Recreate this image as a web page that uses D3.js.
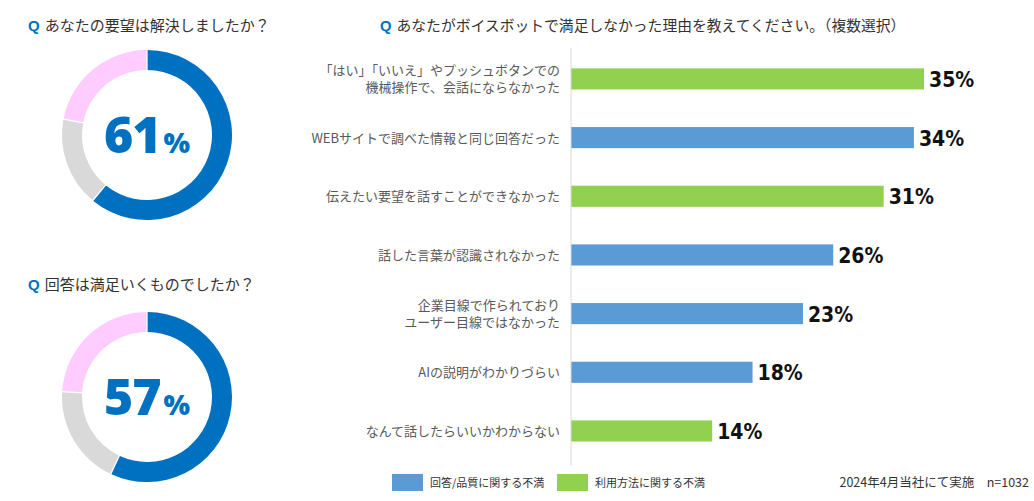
<!DOCTYPE html>
<html>
<head>
<meta charset="utf-8">
<script src="https://cdn.jsdelivr.net/npm/d3@7"></script>
<style>
  body { margin: 0; background: #fff; }
  text { font-family: "Noto Sans CJK JP", "Noto Sans", sans-serif; }
</style>
</head>
<body>
<div id="vis"></div>
<script>
// donut questions + values (resolved / neutral / not resolved)
var donutTitles = ["あなたの要望は解決しましたか？", "回答は満足いくものでしたか？"];
var donutTopValues = [61, 17, 22];
var donutBottomValues = [57, 19, 24];
var donutColors = ["#0070C0", "#D9D9D9", "#FFCCFF"];

// bar chart
var barTitle = "あなたがボイスボットで満足しなかった理由を教えてください。（複数選択）";
var reasonLabels = [
  ["「はい」「いいえ」やプッシュボタンでの", "機械操作で、会話にならなかった"],
  ["WEBサイトで調べた情報と同じ回答だった"],
  ["伝えたい要望を話すことができなかった"],
  ["話した言葉が認識されなかった"],
  ["企業目線で作られており", "ユーザー目線ではなかった"],
  ["AIの説明がわかりづらい"],
  ["なんて話したらいいかわからない"]
];
var reasonValues = [35, 34, 31, 26, 23, 18, 14];
var reasonGroups = ["usage", "quality", "usage", "quality", "quality", "quality", "usage"];
var groupNames = ["quality", "usage"];
var legendLabels = ["回答/品質に関する不満", "利用方法に関する不満"];
var footnote = "2024年4月当社にて実施　n=1032";

var width = 1034, height = 501;

var svg = d3.select("#vis").append("svg")
  .attr("width", width)
  .attr("height", height);

svg.append("rect").attr("width", width).attr("height", height).attr("fill", "#fff");

function title(x, y, txt, size) {
  var t = svg.append("text").attr("x", x).attr("y", y).style("font-size", size + "px");
  t.append("tspan").text("Q").attr("fill", "#0070C0").style("font-weight", "bold")
    .style("font-family", "'Liberation Sans', Arial, sans-serif").attr("dx", 0);
  t.append("tspan").text(txt).attr("fill", "#333").attr("dx", 5);
}

// ---- donuts ----
var pie = d3.pie().sort(null).value(function(d) { return d; });
var arc = d3.arc().innerRadius(65).outerRadius(85).padAngle(0.012);

function donut(cx, cy, values, titleY, titleText) {
  title(28, titleY, titleText, 15);
  var g = svg.append("g").attr("transform", "translate(" + cx + "," + cy + ")");
  g.selectAll("path")
    .data(pie(values))
    .enter().append("path")
    .attr("d", arc)
    .attr("fill", function(d, i) { return donutColors[i]; });
  var t = g.append("text")
    .attr("text-anchor", "middle")
    .attr("y", 18)
    .attr("fill", "#0070C0")
    .style("font-family", "'Open Sans', 'Noto Sans', sans-serif")
    .style("font-weight", "800");
  t.append("tspan").text(values[0]).style("font-size", "50px").attr("letter-spacing", "-1px");
  t.append("tspan").text("%").style("font-size", "28px").attr("dx", 3);
}

donut(147, 135, donutTopValues, 31, donutTitles[0]);
donut(147, 397, donutBottomValues, 290, donutTitles[1]);

// ---- bar chart ----
title(380, 31, barTitle, 14.8);

var x0 = 571;
var xScale = d3.scaleLinear()
  .domain([0, 35])
  .range([0, 353]);

var yScale = d3.scaleBand()
  .domain(d3.range(reasonValues.length))
  .range([49.6, 460.3])
  .paddingInner(0.64)
  .paddingOuter(0.32);

var color = d3.scaleOrdinal().domain(groupNames).range(["#5B9BD5", "#92D050"]);

var chart = svg.append("g").attr("transform", "translate(" + x0 + ",0)");

chart.selectAll("rect.bar")
  .data(reasonValues)
  .enter().append("rect")
  .attr("class", "bar")
  .attr("x", 0)
  .attr("y", function(d, i) { return yScale(i); })
  .attr("width", function(d) { return xScale(d); })
  .attr("height", yScale.bandwidth())
  .attr("fill", function(d, i) { return color(reasonGroups[i]); });

// axis line
chart.append("line")
  .attr("x1", 0).attr("x2", 0)
  .attr("y1", 48).attr("y2", 466)
  .attr("stroke", "#D9D9D9").attr("stroke-width", 1);

// value labels
chart.selectAll("text.val")
  .data(reasonValues)
  .enter().append("text")
  .attr("class", "val")
  .attr("x", function(d) { return xScale(d) + 5; })
  .attr("y", function(d, i) { return yScale(i) + yScale.bandwidth() / 2 + 8; })
  .attr("fill", "#111")
  .style("font-family", "'DejaVu Sans Condensed', 'DejaVu Sans', sans-serif")
  .style("font-stretch", "condensed")
  .style("font-weight", "bold")
  .style("font-size", "21px")
  .text(function(d) { return d + "%"; });

// category labels
chart.selectAll("text.cat")
  .data(reasonLabels)
  .enter().append("text")
  .attr("class", "cat")
  .attr("text-anchor", "end")
  .attr("fill", "#595959")
  .style("font-size", "13px")
  .each(function(lines, i) {
    var cy = yScale(i) + yScale.bandwidth() / 2;
    var start = cy - (lines.length - 1) * 17 / 2 + 5;
    d3.select(this).selectAll("tspan")
      .data(lines)
      .enter().append("tspan")
      .attr("x", -11)
      .attr("y", function(l, j) { return start + j * 17; })
      .text(function(l) { return l; });
  });

// legend
var legendX = [392, 557];
var leg = svg.selectAll("g.legend")
  .data(groupNames)
  .enter().append("g")
  .attr("class", "legend")
  .attr("transform", function(d, i) { return "translate(" + legendX[i] + ",474)"; });
leg.append("rect")
  .attr("width", 31).attr("height", 17)
  .attr("fill", function(d) { return d == "quality" ? "#5B9BD5" : "#92D050"; });
leg.append("text")
  .attr("x", 38).attr("y", 13)
  .attr("fill", "#333")
  .style("font-size", "11px")
  .text(function(d, i) { return legendLabels[i]; });

svg.append("text")
  .attr("x", 1029).attr("y", 487)
  .attr("text-anchor", "end")
  .attr("fill", "#333")
  .style("font-size", "12.5px")
  .text(footnote);
</script>
</body>
</html>
